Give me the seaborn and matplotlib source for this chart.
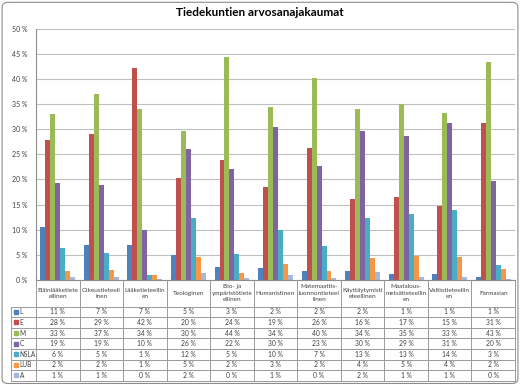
import numpy as np
import pandas as pd
import matplotlib
matplotlib.use('Agg')
import matplotlib.pyplot as plt
import seaborn as sns
from matplotlib.patches import FancyBboxPatch

# Data
categories = ['Eläinlääketieteellinen', 'Oikeustieteellinen', 'Lääketieteellinen', 'Teologinen',
              'Bio- ja ympäristötieteellinen', 'Humanistinen', 'Matemaattis-luonnontieteellinen',
              'Käyttäytymistieteellinen', 'Maatalous-metsätieteellinen', 'Valtiotieteellinen', 'Farmasian']
header_labels = ['Eläinlääketiete\nellinen', 'Oikeustieteell\ninen', 'Lääketieteellin\nen', 'Teologinen',
                 'Bio- ja\nympäristötiete\nellinen', 'Humanistinen', 'Matemaattis-\nluonnontieteel\nlinen',
                 'Käyttäytymisti\neteellinen', 'Maatalous-\nmetsätieteellin\nen', 'Valtiotieteellin\nen', 'Farmasian']
series = ['L', 'E', 'M', 'C', 'NSLA', 'LUB', 'A']
colors = ['#4F81BD', '#C0504D', '#9BBB59', '#8064A2', '#4BACC6', '#F79646', '#A5B8DA']

# bar heights (%)
L_vals = [10.6, 6.9, 6.9, 4.9, 2.5, 2.3, 1.8, 1.7, 1.2, 1.1, 0.6]
E_vals = [27.8, 29.0, 42.1, 20.3, 23.9, 18.6, 26.2, 16.2, 16.5, 14.7, 31.3]
M_vals = [33.1, 37.1, 34.1, 29.7, 44.3, 34.4, 40.2, 34.0, 35.1, 33.3, 43.4]
C_vals = [19.3, 18.9, 9.9, 26.0, 22.0, 30.4, 22.7, 29.6, 28.6, 31.3, 19.6]
NSLA_vals = [6.4, 5.4, 1.0, 12.4, 5.1, 10.0, 6.7, 12.4, 13.1, 13.9, 3.0]
LUB_vals = [1.7, 1.9, 1.0, 4.5, 1.4, 3.2, 1.8, 4.3, 4.7, 4.5, 2.1]
A_vals = [0.6, 0.5, 0.1, 1.4, 0.3, 0.9, 0.3, 1.5, 0.6, 0.6, 0.2]

# rounded values shown in the data table
L_tab = [11, 7, 7, 5, 3, 2, 2, 2, 1, 1, 1]
E_tab = [28, 29, 42, 20, 24, 19, 26, 16, 17, 15, 31]
M_tab = [33, 37, 34, 30, 44, 34, 40, 34, 35, 33, 43]
C_tab = [19, 19, 10, 26, 22, 30, 23, 30, 29, 31, 20]
NSLA_tab = [6, 5, 1, 12, 5, 10, 7, 13, 13, 14, 3]
LUB_tab = [2, 2, 1, 5, 2, 3, 2, 4, 5, 4, 2]
A_tab = [1, 1, 0, 2, 0, 1, 0, 2, 1, 1, 0]

bar_vals = [L_vals, E_vals, M_vals, C_vals, NSLA_vals, LUB_vals, A_vals]
tab_vals = [L_tab, E_tab, M_tab, C_tab, NSLA_tab, LUB_tab, A_tab]

df = pd.DataFrame([
    {'Tiedekunta': cat, 'Sarja': s, 'Osuus': vals[i]}
    for s, vals in zip(series, bar_vals)
    for i, cat in enumerate(categories)
])

sns.set_style('white')
plt.rcParams['font.family'] = ['Lato', 'DejaVu Sans']

W, H = 520, 385
fig = plt.figure(figsize=(W / 100, H / 100), dpi=100)

# main bar chart
ax = fig.add_axes([36 / W, 1 - 280 / H, 479 / W, 251.3 / H])
sns.barplot(data=df, x='Tiedekunta', y='Osuus', hue='Sarja', order=categories, hue_order=series,
            palette=colors, width=0.8, saturation=1, legend=False, linewidth=0, ax=ax)
ax.set_xlim(-0.5, len(categories) - 0.5)
ax.set_ylim(0, 50)
ax.set_yticks(np.arange(0, 51, 5))
ax.set_yticklabels([f'{v} %' for v in range(0, 51, 5)], fontsize=5, color='#404040')
ax.tick_params(axis='y', length=0, pad=6)
ax.set_xticks([])
ax.set_xlabel('')
ax.set_ylabel('')
ax.yaxis.grid(True, color='#BFBFBF', lw=0.8)
ax.set_axisbelow(True)
for side in ['top', 'right']:
    ax.spines[side].set_visible(False)
ax.spines['left'].set_color('#8c8c8c')
ax.spines['bottom'].set_color('#8c8c8c')
ax.spines['left'].set_linewidth(0.8)
ax.spines['bottom'].set_linewidth(0.8)

fig.text(0.5, 1 - 13 / H, 'Tiedekuntien arvosanajakaumat', ha='center', va='center',
         fontsize=8.5, fontweight='bold', color='#000000')

# data table under the chart
col_w = 479 / len(categories)
x0 = -0.5 - 25 / col_w
hh = 2.5
n = len(series)
tax = fig.add_axes([11 / W, 1 - 380.7 / H, 504 / W, 100.7 / H])
tax.set_xlim(x0, len(categories) - 0.5)
tax.set_ylim(n + hh, 0)
tax.axis('off')
lc = '#9a9a9a'
for k in range(n + 1):
    tax.plot([x0, len(categories) - 0.5], [hh + k, hh + k], color=lc, lw=0.7, clip_on=False)
for i in range(len(categories) + 1):
    tax.plot([i - 0.5, i - 0.5], [0, n + hh], color=lc, lw=0.7, clip_on=False)
tax.plot([x0, x0], [hh, n + hh], color=lc, lw=0.7, clip_on=False)

for i, lab in enumerate(header_labels):
    tax.text(i, hh / 2, lab, ha='center', va='center', fontsize=4.6, color='#404040', linespacing=1.35)

for k, (s, c, vals) in enumerate(zip(series, colors, tab_vals)):
    yy = hh + k + 0.5
    tax.plot(x0 + 0.12, yy, marker='s', markersize=2.8, color=c, clip_on=False)
    tax.text(x0 + 0.2, yy, s, ha='left', va='center', fontsize=4.7, color='#404040')
    for i, v in enumerate(vals):
        tax.text(i, yy, f'{v} %', ha='center', va='center', fontsize=4.9, color='#404040')

# chart frame
fig.patches.append(FancyBboxPatch((0.004, 0.004), 0.992, 0.99,
                                  boxstyle='round,pad=0,rounding_size=0.012',
                                  transform=fig.transFigure, fill=False, ec='#8c8c8c', lw=0.8))

fig.savefig('out.png', dpi=100)
